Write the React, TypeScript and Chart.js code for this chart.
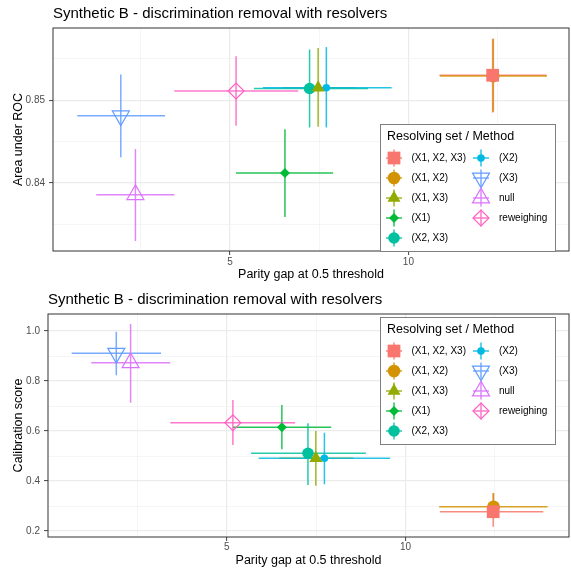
import React, { useEffect, useRef } from 'react';
import { Chart, registerables } from 'chart.js';
import { drawPoint } from 'chart.js/helpers';

Chart.register(...registerables);
Chart.defaults.font.family = "'Liberation Sans', Arial, sans-serif";

// ---------- data ----------
const titleText = 'Synthetic B - discrimination removal with resolvers';
const legendTitle = 'Resolving set / Method';
const methods = ['(X1, X2, X3)', '(X1, X2)', '(X1, X3)', '(X1)', '(X2, X3)', '(X2)', '(X3)', 'null', 'reweighing'];
const colors = ['#F8766D', '#D39200', '#93AA00', '#00BA38', '#00C19F', '#00B9E3', '#619CFF', '#DB72FB', '#FF61C3'];
const shapes = ['rect', 'circle', 'triangle', 'rectRot', 'circle', 'circle', 'triangle', 'triangle', 'rectRot'];
const shapeRotation = [0, 0, 0, 0, 0, 0, 180, 0, 0];
const shapeFilled = [true, true, true, true, true, true, false, false, false];
const shapeRadius = [9, 6.3, 7.5, 5, 5.8, 3.8, 9.8, 9.8, 8];

// panel 1: AUC
const aucGap = [12.36, 12.38, 7.47, 6.54, 7.23, 7.70, 1.94, 2.35, 5.17];
const aucGapLow = [10.87, 10.88, 6.48, 5.17, 5.67, 5.92, 0.72, 1.25, 3.44];
const aucGapHigh = [13.87, 13.88, 8.52, 7.89, 8.87, 9.53, 3.18, 3.44, 6.91];
const aucValue = [0.8530, 0.8529, 0.8515, 0.8412, 0.8514, 0.8515, 0.8481, 0.8386, 0.8511];
const aucLow = [0.8485, 0.8486, 0.8468, 0.8359, 0.8467, 0.8467, 0.8431, 0.8330, 0.8469];
const aucHigh = [0.8574, 0.8574, 0.8563, 0.8465, 0.8561, 0.8564, 0.8531, 0.8441, 0.8553];

// panel 2: calibration
const calGap = [12.45, 12.46, 7.49, 6.54, 7.27, 7.73, 1.91, 2.31, 5.17];
const calGapLow = [10.96, 10.94, 6.47, 5.17, 5.68, 5.89, 0.66, 1.21, 3.42];
const calGapHigh = [13.85, 13.97, 8.54, 7.92, 8.89, 9.57, 3.16, 3.42, 6.91];
const calValue = [0.277, 0.297, 0.491, 0.615, 0.511, 0.491, 0.911, 0.873, 0.633];
const calLow = [0.217, 0.250, 0.381, 0.527, 0.384, 0.387, 0.823, 0.713, 0.544];
const calHigh = [0.351, 0.352, 0.600, 0.704, 0.631, 0.593, 0.997, 1.028, 0.724];

// ticks
const gapMajorTicks = [5, 10];
const gapMinorTicks = [2.5, 7.5, 12.5];
const aucMajorTicks = [0.84, 0.85];
const aucMinorTicks = [0.835, 0.845, 0.855];
const calMajorTicks = [0.2, 0.4, 0.6, 0.8, 1.0];
const calMinorTicks = [0.3, 0.5, 0.7, 0.9];

// ---------- helpers ----------
const hexA = (hex: string, a: number) => {
  const n = parseInt(hex.slice(1), 16);
  return `rgba(${(n >> 16) & 255},${(n >> 8) & 255},${n & 255},${a})`;
};
const isIn = (arr: number[], v: number) => arr.some((t) => Math.abs(t - v) < 1e-9);

function axisConfig(opts: any) {
  const { min, max, major, minor, fmt, title, size, isX, titlePad } = opts;
  return {
    type: 'linear',
    min,
    max,
    afterBuildTicks: (axis: any) => {
      axis.ticks = [...major, ...minor].sort((a, b) => a - b).map((v) => ({ value: v }));
    },
    afterFit: (s: any) => {
      if (isX) s.height = size;
      else s.width = size;
    },
    ticks: {
      autoSkip: false,
      maxRotation: 0,
      padding: isX ? opts.tickPad : 4,
      color: '#4D4D4D',
      font: { size: 10 },
      callback: (v: number) => (isIn(major, v) ? fmt(v) : ''),
    },
    grid: {
      drawTicks: true,
      tickLength: 4,
      tickWidth: 1,
      color: (c: any) => (isIn(major, c.tick?.value) ? '#EBEBEB' : '#F3F3F3'),
      lineWidth: (c: any) => (isIn(major, c.tick?.value) ? 1.2 : 0.8),
      tickColor: (c: any) => (isIn(major, c.tick?.value) ? '#444444' : 'rgba(0,0,0,0)'),
    },
    border: { display: false },
    title: {
      display: true,
      text: title,
      color: '#000000',
      font: { size: 12.5 },
      padding: titlePad,
    },
  };
}

function makeConfig(p: any) {
  const { gap, gapLow, gapHigh, val, low, high, xMin, xMax, yMin, yMax, yMajor, yMinor, yFmt, yTitle, yWidth, xHeight, titlePadTop, xTitlePadBottom, xTickPad, legendAnchor } = p;

  const errorBars = {
    id: 'errorBars',
    beforeDatasetsDraw(chart: any) {
      const { ctx, chartArea: ca } = chart;
      const xs = chart.scales.x;
      const ys = chart.scales.y;
      ctx.save();
      ctx.beginPath();
      ctx.rect(ca.left, ca.top, ca.right - ca.left, ca.bottom - ca.top);
      ctx.clip();
      ctx.lineWidth = 1.5;
      for (let i = 0; i < methods.length; i++) {
        ctx.strokeStyle = hexA(colors[i], 0.85);
        ctx.beginPath();
        ctx.moveTo(xs.getPixelForValue(gap[i]), ys.getPixelForValue(low[i]));
        ctx.lineTo(xs.getPixelForValue(gap[i]), ys.getPixelForValue(high[i]));
        ctx.stroke();
        ctx.beginPath();
        ctx.moveTo(xs.getPixelForValue(gapLow[i]), ys.getPixelForValue(val[i]));
        ctx.lineTo(xs.getPixelForValue(gapHigh[i]), ys.getPixelForValue(val[i]));
        ctx.stroke();
      }
      ctx.restore();
    },
    afterDatasetsDraw(chart: any) {
      const { ctx, chartArea: ca } = chart;
      ctx.save();
      ctx.strokeStyle = '#333333';
      ctx.lineWidth = 1;
      ctx.strokeRect(ca.left, ca.top, ca.right - ca.left, ca.bottom - ca.top);
      ctx.restore();
    },
    afterDraw(chart: any) {
      const { ctx, chartArea: ca } = chart;
      const w = 175;
      const h = 127;
      const left = ca.right - 14 - w;
      const top = legendAnchor === 'bottom' ? ca.bottom - h : ca.top + 3;
      ctx.save();
      ctx.fillStyle = '#FFFFFF';
      ctx.fillRect(left, top, w, h);
      ctx.strokeStyle = '#7F7F7F';
      ctx.lineWidth = 1;
      ctx.strokeRect(left + 0.5, top + 0.5, w, h);
      ctx.fillStyle = '#000000';
      ctx.font = "12.5px 'Liberation Sans', Arial, sans-serif";
      ctx.textBaseline = 'middle';
      ctx.textAlign = 'left';
      ctx.fillText(legendTitle, left + 7, top + 12.5);
      for (let i = 0; i < methods.length; i++) {
        const col = i < 5 ? 0 : 1;
        const row = i < 5 ? i : i - 5;
        const sx = left + (col === 0 ? 14 : 101);
        const sy = top + 34 + row * 20;
        ctx.strokeStyle = hexA(colors[i], 0.85);
        ctx.lineWidth = 1.5;
        ctx.beginPath();
        ctx.moveTo(sx - 8, sy);
        ctx.lineTo(sx + 8, sy);
        ctx.moveTo(sx, sy - 8.5);
        ctx.lineTo(sx, sy + 8.5);
        ctx.stroke();
        ctx.fillStyle = shapeFilled[i] ? colors[i] : 'rgba(0,0,0,0)';
        ctx.strokeStyle = colors[i];
        ctx.lineWidth = shapeFilled[i] ? 0 : 1.2;
        drawPoint(ctx, {
          pointStyle: shapes[i],
          rotation: shapeRotation[i],
          radius: shapeRadius[i],
          borderWidth: shapeFilled[i] ? 0 : 1.2,
        } as any, sx, sy);
        ctx.fillStyle = '#000000';
        ctx.font = "10px 'Liberation Sans', Arial, sans-serif";
        ctx.fillText(methods[i], left + (col === 0 ? 31.5 : 119), sy);
      }
      ctx.restore();
    },
  };

  return {
    type: 'scatter',
    data: {
      datasets: methods.map((m, i) => ({
        label: m,
        data: [{ x: gap[i], y: val[i] }],
        pointStyle: shapes[i],
        rotation: shapeRotation[i],
        pointRadius: shapeRadius[i],
        pointHoverRadius: shapeRadius[i],
        backgroundColor: shapeFilled[i] ? colors[i] : 'rgba(0,0,0,0)',
        borderColor: colors[i],
        borderWidth: shapeFilled[i] ? 0 : 1.2,
      })),
    },
    options: {
      responsive: false,
      animation: false,
      devicePixelRatio: 1,
      events: [],
      layout: { autoPadding: false, padding: { left: 0, right: 2, top: 0, bottom: 0 } },
      plugins: {
        legend: { display: false },
        tooltip: { enabled: false },
        title: {
          display: true,
          text: titleText,
          align: 'start',
          fullSize: false,
          color: '#000000',
          font: { size: 15, weight: 'normal' },
          padding: { top: titlePadTop, bottom: 5 },
        },
      },
      scales: {
        x: axisConfig({
          min: xMin, max: xMax, major: gapMajorTicks, minor: gapMinorTicks,
          fmt: (v: number) => String(v), title: 'Parity gap at 0.5 threshold',
          size: xHeight, isX: true, tickPad: xTickPad, titlePad: { top: 0, bottom: xTitlePadBottom },
        }),
        y: axisConfig({
          min: yMin, max: yMax, major: yMajor, minor: yMinor, fmt: yFmt, title: yTitle,
          size: yWidth, isX: false, titlePad: { top: 11, bottom: 0 },
        }),
      },
    },
    plugins: [errorBars],
  };
}

function Panel({ config, width, height }: { config: any; width: number; height: number }) {
  const ref = useRef<HTMLCanvasElement>(null);
  useEffect(() => {
    const chart = new Chart(ref.current as HTMLCanvasElement, config);
    return () => chart.destroy();
  }, []);
  return <canvas ref={ref} width={width} height={height} style={{ display: 'block', width, height }} />;
}

export default function App() {
  const top = makeConfig({
    gap: aucGap, gapLow: aucGapLow, gapHigh: aucGapHigh, val: aucValue, low: aucLow, high: aucHigh,
    xMin: 0.04, xMax: 14.5, yMin: 0.8318, yMax: 0.8587, yMajor: aucMajorTicks, yMinor: aucMinorTicks,
    yFmt: (v: number) => v.toFixed(2), yTitle: 'Area under ROC', yWidth: 53, xHeight: 34,
    titlePadTop: 5, xTitlePadBottom: 3, xTickPad: 1, legendAnchor: 'bottom',
  });
  const bottom = makeConfig({
    gap: calGap, gapLow: calGapLow, gapHigh: calGapHigh, val: calValue, low: calLow, high: calHigh,
    xMin: 0.0, xMax: 14.57, yMin: 0.176, yMax: 1.068, yMajor: calMajorTicks, yMinor: calMinorTicks,
    yFmt: (v: number) => v.toFixed(1), yTitle: 'Calibration score', yWidth: 48, xHeight: 32,
    titlePadTop: 6, xTitlePadBottom: 1, xTickPad: 0.5, legendAnchor: 'top',
  });
  return (
    <div style={{ position: 'absolute', left: 0, top: 0, width: 571, height: 569, background: '#fff' }}>
      <Panel config={top} width={571} height={285} />
      <Panel config={bottom} width={571} height={284} />
    </div>
  );
}
